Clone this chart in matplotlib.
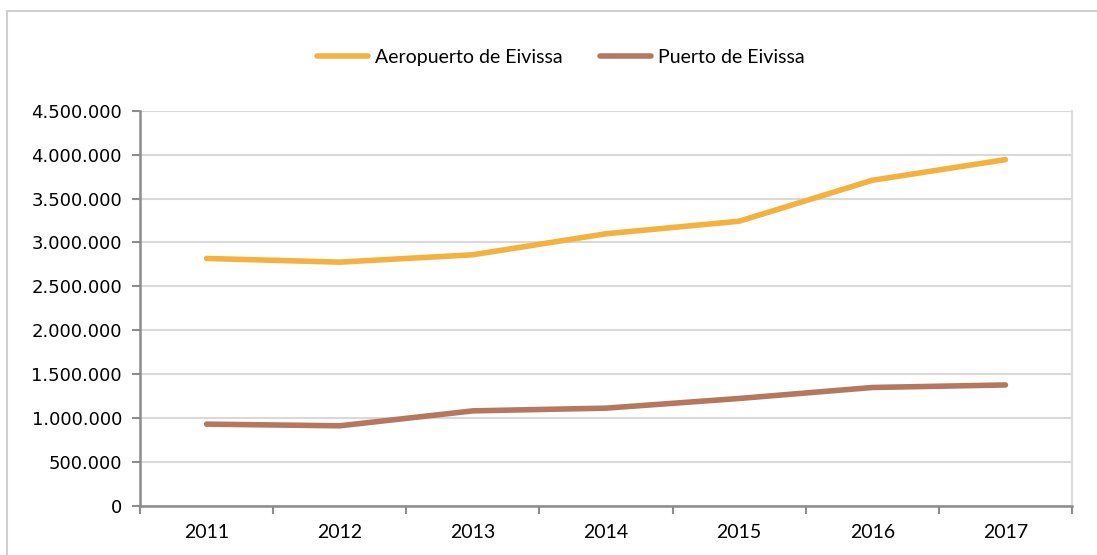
import matplotlib
matplotlib.use("Agg")
import matplotlib.pyplot as plt
from matplotlib.patches import Rectangle
from matplotlib.ticker import FuncFormatter, MultipleLocator

years = ["2011", "2012", "2013", "2014", "2015", "2016", "2017"]
aeropuerto = [2818000, 2776000, 2860000, 3099000, 3242000, 3708000, 3943000]
puerto = [932000, 913000, 1083000, 1114000, 1224000, 1349000, 1378000]
series_names = ["Aeropuerto de Eivissa", "Puerto de Eivissa"]
series_colors = ["#F5B13D", "#B5775D"]

W, H = 1097, 555
fig = plt.figure(figsize=(W / 100, H / 100), dpi=100)

# outer frame of the chart area
fig.patches.append(Rectangle((7 / W, -0.05), 1.2, 1 - 11 / H + 0.05,
                             transform=fig.transFigure, fill=False,
                             edgecolor="#D0D0D0", linewidth=1.5, zorder=0))

ax = fig.add_axes([140 / W, 1 - 506 / H, (1072 - 140) / W, (506 - 110.7) / H])

x = list(range(len(years)))
for vals, name, col in zip([aeropuerto, puerto], series_names, series_colors):
    ax.plot(x, vals, color=col, linewidth=4.0, solid_capstyle="round",
            solid_joinstyle="round", label=name, zorder=3)

ax.set_xlim(-0.5, len(years) - 0.5)
ax.set_ylim(0, 4500000)
ax.yaxis.set_major_locator(MultipleLocator(500000))
ax.yaxis.set_major_formatter(FuncFormatter(lambda v, p: f"{int(v):,}".replace(",", ".")))
ax.grid(axis="y", color="#D9D9D9", linewidth=1.5, zorder=0)
ax.set_axisbelow(True)

# category axis: ticks between categories, labels at centers
ax.set_xticks([i - 0.5 for i in range(len(years) + 1)])
ax.set_xticklabels([])
ax.set_xticks(x, minor=True)
ax.set_xticklabels(years, minor=True, fontsize=14, family="Lato")
ax.tick_params(axis="x", which="minor", length=0, pad=13)
ax.tick_params(axis="x", which="major", length=6, width=1.5, color="#8C8C8C", direction="out")
ax.tick_params(axis="y", length=6, width=1.5, color="#8C8C8C", direction="out", labelsize=13, pad=7)
for lbl in ax.get_yticklabels():
    lbl.set_family("DejaVu Sans")

ax.spines["top"].set_visible(False)
ax.spines["right"].set_color("#DCDCDC")
ax.spines["right"].set_linewidth(1.5)
ax.spines["left"].set_color("#8C8C8C")
ax.spines["left"].set_linewidth(1.8)
ax.spines["bottom"].set_color("#8C8C8C")
ax.spines["bottom"].set_linewidth(1.8)

leg = fig.legend(loc="center", bbox_to_anchor=(561 / W, 1 - 57 / H), ncol=2,
                 frameon=False, prop={"family": "Lato", "size": 14},
                 handlelength=2.6, handletextpad=0.4, columnspacing=1.9)

fig.savefig("out.png", dpi=100)
